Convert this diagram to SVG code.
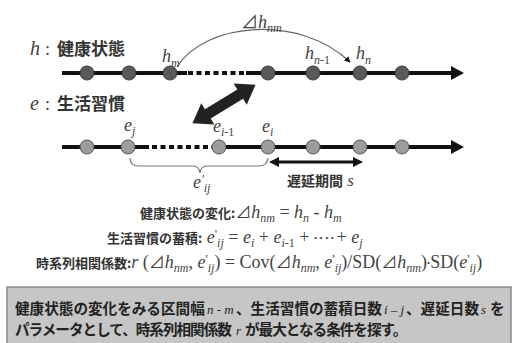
<svg xmlns="http://www.w3.org/2000/svg" width="516" height="343" viewBox="0 0 516 343">
<style>
.ln{stroke:#111;stroke-width:4;fill:none}
.dash{stroke:#111;stroke-width:4;stroke-dasharray:5 3.5;fill:none}
.hc{fill:#5a5a5a;stroke:#3a3a3a;stroke-width:1}
.ec{fill:#9c9c9c;stroke:#555;stroke-width:1}
.jp{font-family:"Noto Sans CJK JP","Noto Sans",sans-serif;font-weight:bold;fill:#333}
.mi{font-family:"Liberation Serif",serif;font-style:italic;fill:#444}
.mr{font-family:"Liberation Serif",serif;font-style:normal;fill:#444}
.dl{font-family:"Noto Sans CJK JP",sans-serif;font-weight:normal;fill:#444}
.lab{font-size:18px}
.sb{font-size:12px}
.pr{font-family:"Liberation Serif",serif;font-size:13px;fill:#444}
.bt{font-family:"Noto Sans CJK JP","Noto Sans",sans-serif;font-weight:bold;font-size:14.6px;fill:#222}
.bt2{letter-spacing:-1px}
.bi{font-family:"Liberation Serif",serif;font-style:italic;font-size:13px;fill:#222}
</style>
<defs>
<marker id="ah" viewBox="0 0 10 10" refX="9" refY="5" markerWidth="6" markerHeight="6" orient="auto" markerUnits="userSpaceOnUse">
<path d="M0,0 L10,5 L0,10 z" fill="#111"/>
</marker>
</defs>
<rect width="516" height="343" fill="#fff"/>

<g id="connectors">
  <path class="ln" d="M62,73 H187"/>
  <path class="dash" d="M188,73 H246"/>
  <path class="ln" d="M246,73 H452"/>
  <path d="M451,66 L464,73 L451,80 z" fill="#111"/>
  <path class="ln" d="M62,147 H149"/>
  <path class="dash" d="M152,147 H212"/>
  <path class="ln" d="M212,147 H452"/>
  <path d="M451,140 L464,147 L451,154 z" fill="#111"/>
  <path d="M177,67 C205,22 300,14 350,62" fill="none" stroke="#666" stroke-width="1.2" marker-end="url(#ah)"/>
  <polygon transform="translate(224,104) rotate(-31.5)" points="-37,0 -19,-12.5 -19,-5.5 19,-5.5 19,-12.5 37,0 19,12.5 19,5.5 -19,5.5 -19,12.5" fill="#222"/>
  <path d="M130,158 Q130,166 139,166 L193,166 Q199,166 200,173 Q201,166 207,166 L259,166 Q267,166 268,158" fill="none" stroke="#777" stroke-width="1.2"/>
  <path d="M277,162 H355" stroke="#111" stroke-width="3"/>
  <path d="M269,162 L279,157 L279,167 z" fill="#111"/>
  <path d="M363,162 L353,157 L353,167 z" fill="#111"/>
</g>

<g id="node-h1"><circle class="hc" cx="87" cy="73" r="7"/></g>
<g id="node-h2"><circle class="hc" cx="129" cy="73" r="7"/></g>
<g id="node-hm"><circle class="hc" cx="170" cy="73" r="7"/></g>
<g id="node-h4"><circle class="hc" cx="268" cy="73" r="7"/></g>
<g id="node-hn1"><circle class="hc" cx="313" cy="73" r="7"/></g>
<g id="node-hn"><circle class="hc" cx="360" cy="73" r="7"/></g>
<g id="node-h7"><circle class="hc" cx="402" cy="73" r="7"/></g>

<g id="node-e1"><circle class="ec" cx="87" cy="147" r="7"/></g>
<g id="node-ej"><circle class="ec" cx="128" cy="147" r="7"/></g>
<g id="node-ei1"><circle class="ec" cx="219" cy="147" r="7"/></g>
<g id="node-ei"><circle class="ec" cx="268" cy="147" r="7"/></g>
<g id="node-e5"><circle class="ec" cx="313" cy="147" r="7"/></g>
<g id="node-e6"><circle class="ec" cx="360" cy="147" r="7"/></g>
<g id="node-e7"><circle class="ec" cx="402" cy="147" r="7"/></g>

<g id="axis-labels">
  <text y="55"><tspan class="mi" x="30" font-size="20">h</tspan><tspan class="mr" x="45" font-size="18">:</tspan><tspan class="jp" x="57" font-size="17">健康状態</tspan></text>
  <text y="110"><tspan class="mi" x="30" font-size="20">e</tspan><tspan class="mr" x="45" font-size="18">:</tspan><tspan class="jp" x="57" font-size="17">生活習慣</tspan></text>
</g>

<g id="point-labels">
  <text class="mi lab" x="162" y="62">h<tspan class="sb" dy="5">m</tspan></text>
  <text class="mi lab" x="305" y="59">h<tspan class="sb" dy="5">n</tspan><tspan class="sb mr">-1</tspan></text>
  <text class="mi lab" x="356" y="59">h<tspan class="sb" dy="5">n</tspan></text>
  <text x="241" y="28"><tspan class="dl" font-size="17">⊿</tspan><tspan class="mi lab">h</tspan><tspan class="mi sb" dy="4">nm</tspan></text>
  <text class="mi lab" x="124" y="131">e<tspan class="sb" dy="4">j</tspan></text>
  <text class="mi lab" x="213" y="132">e<tspan class="sb" dy="4">i</tspan><tspan class="sb mr">-1</tspan></text>
  <text class="mi lab" x="262" y="132">e<tspan class="sb" dy="4">i</tspan></text>
  <text class="mi lab" x="193" y="188">e<tspan class="pr" dy="-5">'</tspan><tspan class="sb" dy="9">ij</tspan></text>
  <text y="186"><tspan class="jp" x="287" font-size="14">遅延期間</tspan><tspan class="mi" font-size="17"> s</tspan></text>
</g>

<g id="formulas">
  <text x="140" y="218"><tspan class="jp" font-size="13">健康状態の変化:</tspan><tspan class="dl" font-size="16">⊿</tspan><tspan class="mi lab">h</tspan><tspan class="mi sb" dy="4">nm</tspan><tspan class="mr lab" dy="-4"> = </tspan><tspan class="mi lab">h</tspan><tspan class="mi sb" dy="4">n</tspan><tspan class="mr lab" dy="-4"> - </tspan><tspan class="mi lab">h</tspan><tspan class="mi sb" dy="4">m</tspan></text>
  <text x="107" y="243"><tspan class="jp" font-size="13">生活習慣の蓄積:</tspan><tspan class="mi lab"> e</tspan><tspan class="pr" dy="-5">'</tspan><tspan class="mi sb" dy="9">ij</tspan><tspan class="mr lab" dy="-4"> = </tspan><tspan class="mi lab">e</tspan><tspan class="mi sb" dy="4">i</tspan><tspan class="mr lab" dy="-4"> + </tspan><tspan class="mi lab">e</tspan><tspan class="mi sb" dy="4">i</tspan><tspan class="mr sb">-1</tspan><tspan class="mr lab" dy="-4"> + </tspan><tspan class="mr" font-size="9" letter-spacing="2.5" dy="-2">••••</tspan><tspan class="mr lab" dy="2">+ </tspan><tspan class="mi lab">e</tspan><tspan class="mi sb" dy="4">j</tspan></text>
  <text x="36" y="268"><tspan class="jp" font-size="13">時系列相関係数:</tspan><tspan class="mi lab">r</tspan><tspan class="mr lab"> (</tspan><tspan class="dl" font-size="16">⊿</tspan><tspan class="mi lab">h</tspan><tspan class="mi sb" dy="4">nm</tspan><tspan class="mr lab" dy="-4">, </tspan><tspan class="mi lab">e</tspan><tspan class="pr" dy="-5">'</tspan><tspan class="mi sb" dy="9">ij</tspan><tspan class="mr lab" dy="-4">) = Cov(</tspan><tspan class="dl" font-size="16">⊿</tspan><tspan class="mi lab">h</tspan><tspan class="mi sb" dy="4">nm</tspan><tspan class="mr lab" dy="-4">, </tspan><tspan class="mi lab">e</tspan><tspan class="pr" dy="-5">'</tspan><tspan class="mi sb" dy="9">ij</tspan><tspan class="mr lab" dy="-4">)/SD(</tspan><tspan class="dl" font-size="16">⊿</tspan><tspan class="mi lab">h</tspan><tspan class="mi sb" dy="4">nm</tspan><tspan class="mr lab" dy="-4">)</tspan><tspan class="mr" font-size="9" dy="-2">•</tspan><tspan class="mr lab" dy="2">SD(</tspan><tspan class="mi lab">e</tspan><tspan class="pr" dy="-5">'</tspan><tspan class="mi sb" dy="9">ij</tspan><tspan class="mr lab" dy="-4">)</tspan></text>
</g>

<g id="note-box">
  <rect x="7" y="287" width="504" height="60" fill="#c6c6c6" stroke="#8a8a8a" stroke-width="1.5"/>
  <text class="bt" x="15" y="314">健康状態の変化をみる区間幅</text>
  <text class="bi" x="207" y="314">n - m</text>
  <text class="bt" x="236" y="314">、生活習慣の蓄積日数</text>
  <text class="bi" x="384" y="314">i – j</text>
  <text class="bt" x="406" y="314">、遅延日数</text>
  <text class="bi" x="481" y="314">s</text>
  <text class="bt" x="490" y="314">を</text>
  <text class="bt bt2" x="15" y="335">パラメータとして、時系列相関係数</text>
  <text class="bi" x="236" y="335">r</text>
  <text class="bt bt2" x="245" y="335">が最大となる条件を探す。</text>
</g>
</svg>
